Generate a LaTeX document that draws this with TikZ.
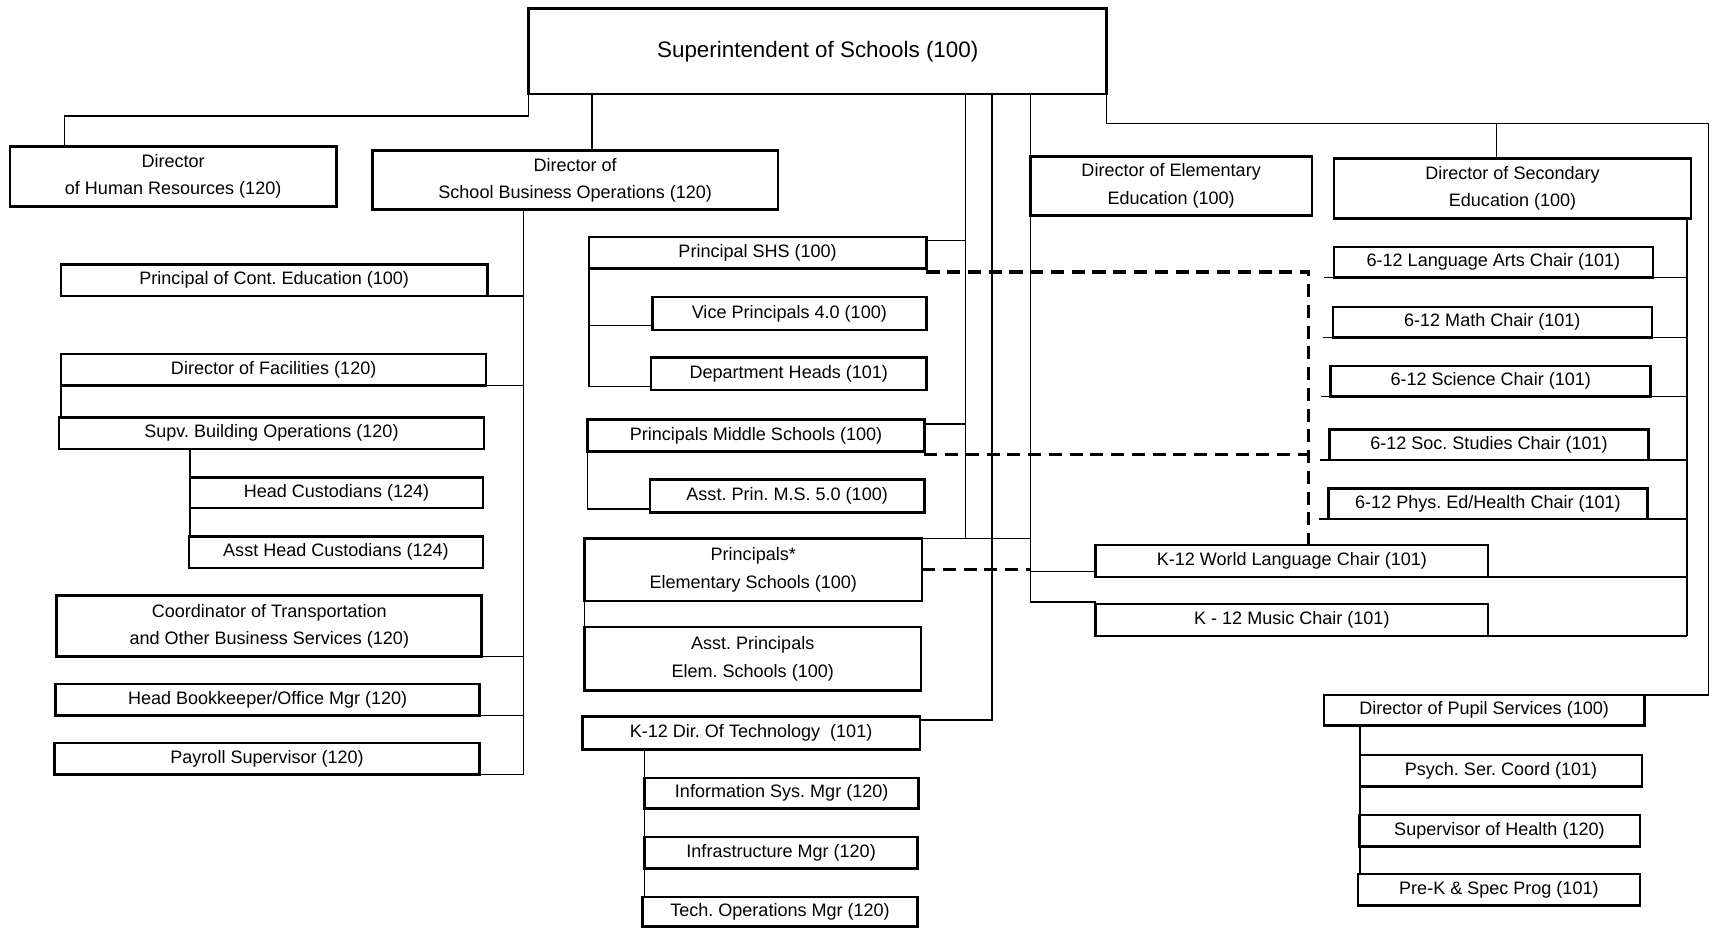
\documentclass[tikz,border=0pt]{standalone}
\usepackage{fontspec}
\setmainfont{Liberation Sans}
\frenchspacing
\tikzset{
  box/.style={draw, line width=2.4pt, fill=white, inner sep=0pt, outer sep=0pt, align=center, font=\fontsize{16.5}{25}\selectfont\frenchspacing},
  conn/.style={line width=1.3pt},
  dsh/.style={line width=2.8pt, dash pattern=on 12pt off 7pt},
}
\newcommand{\obox}[7][]{%
  \pgfmathsetmacro{\obcx}{(#3+#5)/2}%
  \pgfmathsetmacro{\obcy}{(#4+#6)/2}%
  \pgfmathsetmacro{\obw}{#5-#3}%
  \pgfmathsetmacro{\obh}{#6-#4}%
  \node[box, minimum width=\obw pt, minimum height=\obh pt, #1] (#2) at (\obcx,\obcy) {#7};}
\begin{document}
\begin{tikzpicture}[x=1pt,y=-1pt]
\fill[white] (0,0) rectangle (1568,850);
\useasboundingbox (0,0) rectangle (1568,850);
% boxes
\obox[font=\fontsize{20.5}{24}\selectfont]{super}{484}{8}{1013}{86}{Superintendent of Schools (100)}
\obox{hr}{9}{134}{308}{189}{Director\\of Human Resources (120)}
\obox{sbo}{341}{138}{712}{192}{Director of\\School Business Operations (120)}
\obox{delem}{943}{143}{1201}{197}{Director of Elementary\\Education (100)}
\obox{dsec}{1221}{145}{1548}{200}{Director of Secondary\\Education (100)}
\obox{conted}{56}{242}{446}{271}{Principal of Cont. Education (100)}
\obox{fac}{56}{324}{445}{353}{Director of Facilities (120)}
\obox{supv}{54}{382}{443}{411}{Supv. Building Operations (120)}
\obox{hcust}{174}{437}{442}{465}{Head Custodians (124)}
\obox{ahcust}{173}{491}{442}{520}{Asst Head Custodians (124)}
\obox{coord}{52}{545}{441}{601}{Coordinator of Transportation\\and Other Business Services (120)}
\obox{bookk}{51}{626}{439}{655}{Head Bookkeeper/Office Mgr (120)}
\obox{payroll}{50}{680}{439}{709}{Payroll Supervisor (120)}
\obox{shs}{539}{217}{848}{246}{Principal SHS (100)}
\obox{vp}{597}{272}{848}{302}{Vice Principals 4.0 (100)}
\obox{dept}{596}{327}{848}{357}{Department Heads (101)}
\obox{pms}{538}{384}{846}{413}{Principals Middle Schools (100)}
\obox{apms}{595}{439}{846}{469}{Asst. Prin. M.S. 5.0 (100)}
\obox{pelem}{535}{493}{844}{550}{Principals*\\Elementary Schools (100)}
\obox{apelem}{535}{574}{843}{632}{Asst. Principals\\Elem. Schools (100)}
\obox{tech}{533}{656}{842}{686}{K-12 Dir. Of Technology~~(101)}
\obox{infosys}{590}{712}{841}{740}{Information Sys. Mgr (120)}
\obox{infra}{590}{766}{840}{795}{Infrastructure Mgr (120)}
\obox{techops}{588}{821}{840}{848}{Tech. Operations Mgr (120)}
\obox{la}{1221}{226}{1513}{254}{6-12 Language Arts Chair (101)}
\obox{math}{1220}{281}{1512}{309}{6-12 Math Chair (101)}
\obox{sci}{1218}{335}{1511}{363}{6-12 Science Chair (101)}
\obox{soc}{1217}{393}{1509}{421}{6-12 Soc. Studies Chair (101)}
\obox{phys}{1216}{447}{1508}{475}{6-12 Phys. Ed/Health Chair (101)}
\obox{wl}{1003}{499}{1362}{528}{K-12 World Language Chair (101)}
\obox{music}{1003}{553}{1362}{582}{K - 12 Music Chair (101)}
\obox{pupil}{1212}{636}{1505}{664}{Director of Pupil Services (100)}
\obox{psych}{1245}{691}{1503}{720}{Psych. Ser. Coord (101)}
\obox{health}{1244}{746}{1501}{775}{Supervisor of Health (120)}
\obox{prek}{1243}{800}{1501}{829}{Pre-K \& Spec Prog (101)}
% reference x positions of trunk lines
\coordinate (xA) at (884,0);
\coordinate (xB) at (908,0);
\coordinate (xC) at (943,0);
\coordinate (xD) at (1198,0);
\coordinate (xL) at (479,0);
\coordinate (xR) at (1544,0);
% top level
\draw[conn] (super.south west) -- ++(0,20) -| ([xshift=50pt]hr.north west);
\coordinate (sbotop) at ([xshift=58pt]super.south west);
\draw[conn] (sbotop) -- (sbotop |- sbo.north);
\coordinate (rtop) at (1564,113);
\draw[conn] (super.south east) |- (rtop) |- (pupil.north east);
\coordinate (dsectop) at ([xshift=149pt]dsec.north west);
\draw[conn] (dsectop) -- (dsectop |- rtop);
% line A
\draw[conn] (super.south -| xA) -- (pelem.north -| xA);
\coordinate (shsA) at ([yshift=-3pt]shs.north east);
\draw[conn] (shsA) -- (shsA -| xA);
\coordinate (pmsA) at ([yshift=-4pt]pms.north east);
\draw[conn] (pmsA) -- (pmsA -| xA);
% line B
\coordinate (techB) at ([yshift=-3pt]tech.north east);
\draw[conn] (super.south -| xB) |- (techB);
% line C
\draw[conn] (super.south -| xC) -- (delem.north west);
\coordinate (musC) at ([yshift=2pt]music.north west);
\draw[conn] (delem.south west) |- (musC);
\draw[conn] (pelem.north east) -- (pelem.north -| xC);
\coordinate (wlC) at ([yshift=5pt]wl.south west);
\draw[conn] (wlC -| xC) -- (wlC);
% business operations trunk
\draw[conn] (sbo.south -| xL) -- (payroll.south -| xL);
\foreach \n in {conted,fac,coord,bookk,payroll} \draw[conn] (\n.south east) -- (\n.south east -| xL);
\draw[conn] (fac.south west) -- (fac.south west |- supv.north);
\draw[conn] (hcust.north west |- supv.south) -- (hcust.north west);
\draw[conn] (hcust.south west) -- (hcust.south west |- ahcust.north);
% SHS group
\coordinate (vpb) at ([yshift=4pt]vp.south west);
\coordinate (dpb) at ([yshift=3pt]dept.south west);
\draw[conn] (shs.south west) |- (dpb);
\draw[conn] (vpb -| shs.west) -- (vpb);
% middle schools
\coordinate (apb) at ([yshift=3pt]apms.south west);
\draw[conn] (pms.south west) |- (apb);
% elementary
\draw[conn] (pelem.south west) -- (pelem.south west |- apelem.north);
% technology
\draw[conn] (infosys.north west |- tech.south) -- (infosys.north west |- techops.north);
% secondary trunk
\draw[conn] (dsec.south -| xR) -- (music.south -| xR);
\foreach \n in {la,math,sci,soc,phys} \draw[conn] (\n.south -| xR) -- ([xshift=-9pt]\n.south west);
\draw[conn] (wl.south east) -- (wl.south east -| xR);
\draw[conn] (music.south east) -- (music.south east -| xR);
% pupil services
\draw[conn] (psych.north west |- pupil.south) -- (psych.north west |- prek.north);
% dashed links
\draw[dsh] ([yshift=-3pt]shs.south east) -| (wl.north -| xD);
\coordinate (pmsd) at ([yshift=-3pt]pms.south east);
\draw[dsh] (pmsd) -- (pmsd -| xD);
\draw[dsh] (pelem.east) -- (pelem.east -| xC);
\end{tikzpicture}
\end{document}
